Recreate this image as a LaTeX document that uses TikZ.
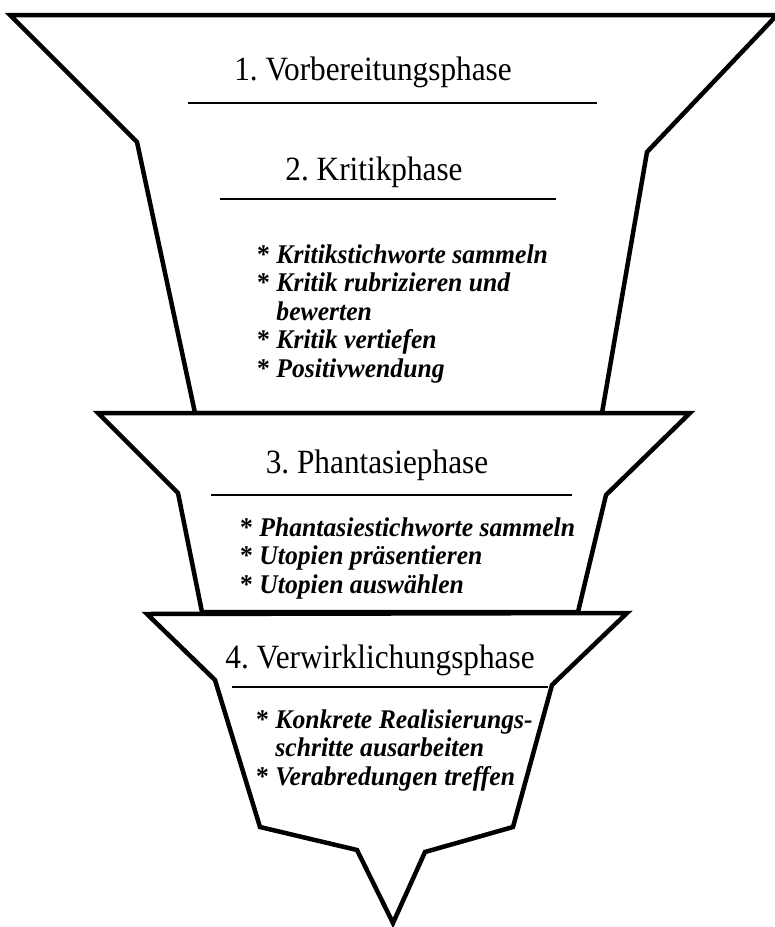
\documentclass[tikz,border=0pt]{standalone}
\usepackage{fontspec}
\setmainfont{Liberation Serif}
\newfontfamily\titlefont{Liberation Serif}[FakeStretch=0.92]
\newfontfamily\itemfont{Liberation Serif}[FakeStretch=0.95]
\usepackage{tikz}
\frenchspacing
\newcommand{\stern}{\textup{*}\ }
\newcommand{\einzug}{\phantom{\textup{*}\ }}
\tikzset{
  funnel/.style={draw=black, fill=white, line width=4.5pt, line join=miter},
  phasetitle/.style={anchor=base, inner sep=0pt, font=\titlefont\fontsize{34}{38}\selectfont},
  itemlist/.style={anchor=base west, inner sep=0pt, align=left, font=\itemfont\fontsize{27}{28.5}\selectfont\bfseries\itshape},
  sepline/.style={line width=1.8pt}
}

\begin{document}
\begin{tikzpicture}[x=1pt, y=-1pt]
  \useasboundingbox[fill=white] (0,0) rectangle (775,927);

  % funnel parts, top to bottom
  \draw[funnel] (10,15) -- (137,142) -- (195,413) -- (602,413) -- (647,152) -- (777,15) -- cycle;
  \draw[funnel] (98,413) -- (178,493) -- (202,612) -- (578,612) -- (606,495) -- (690,413) -- cycle;
  \draw[funnel] (147,614) -- (215,680) -- (260,827) -- (357,850) -- (393,923) -- (425,852)
    -- (513,827) -- (552,685) -- (627,613) -- cycle;

  % phase 1 and 2 (item lists sit on the baseline of their last line)
  \node[phasetitle] (vorb) at (373,80) {1. Vorbereitungsphase};
  \draw[sepline] (188,103) -- (597,103);
  \node[phasetitle] (krit) at (374,180) {2. Kritikphase};
  \draw[sepline] (220,199) -- (556,199);
  \node[itemlist] (kritlist) at (257,377) {\stern Kritikstichworte sammeln\\
    \stern Kritik rubrizieren und\\ \einzug bewerten\\
    \stern Kritik vertiefen\\ \stern Positivwendung};

  % phase 3
  \node[phasetitle] (phant) at (377,473) {3. Phantasiephase};
  \draw[sepline] (211,495) -- (572,495);
  \node[itemlist] (phantlist) at (240,593) {\stern Phantasiestichworte sammeln\\
    \stern Utopien pr\"asentieren\\ \stern Utopien ausw\"ahlen};

  % phase 4
  \node[phasetitle] (verw) at (380,668) {4. Verwirklichungsphase};
  \draw[sepline] (232,687) -- (548,687);
  \node[itemlist] (verwlist) at (256,785) {\stern Konkrete Realisierungs-\\
    \einzug schritte ausarbeiten\\ \stern Verabredungen treffen};
\end{tikzpicture}
\end{document}
